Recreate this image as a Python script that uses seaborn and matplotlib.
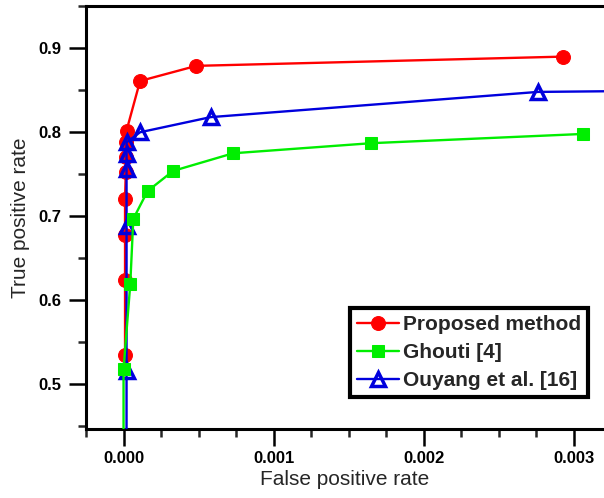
import matplotlib
matplotlib.use('Agg')
import matplotlib.pyplot as plt
from matplotlib.ticker import MultipleLocator, FormatStrFormatter
import seaborn as sns

# wartosci (FPR, TPR)
fpr_proposed = [0.00001, 0.00001, 0.00001, 0.00001, 0.000015, 0.000015, 0.000015, 0.00002, 0.00011, 0.000485, 0.00293]
tpr_proposed = [0.535, 0.624, 0.678, 0.721, 0.753, 0.770, 0.788, 0.802, 0.861, 0.879, 0.890]

fpr_ghouti = [0.0, 0.0, 0.000045, 0.000065, 0.00016, 0.00033, 0.00073, 0.00165, 0.00306]
tpr_ghouti = [0.30, 0.518, 0.620, 0.697, 0.730, 0.754, 0.775, 0.787, 0.798]

fpr_ouyang = [0.00002, 0.00002, 0.00002, 0.00002, 0.00002, 0.00002, 0.00011, 0.00058, 0.00276, 0.0045]
tpr_ouyang = [0.30, 0.516, 0.689, 0.756, 0.774, 0.788, 0.800, 0.818, 0.848, 0.851]

sns.set_style('ticks')
plt.rcParams['font.family'] = ['Liberation Sans', 'DejaVu Sans']
plt.rcParams['font.weight'] = 'bold'

fig = plt.figure(figsize=(6.04, 4.98), dpi=100)
ax = fig.add_axes([0.1424, 0.1386, 0.8576, 0.849])

sns.lineplot(x=fpr_proposed, y=tpr_proposed, sort=False, estimator=None, ax=ax,
             color='#ff0000', linewidth=1.7, marker='o', markersize=10,
             markeredgecolor='#ff0000', label='Proposed method', zorder=3)
sns.lineplot(x=fpr_ouyang, y=tpr_ouyang, sort=False, estimator=None, ax=ax,
             color='#0000dd', linewidth=1.7, marker='^', markersize=10,
             markerfacecolor='none', markeredgecolor='#0000dd', markeredgewidth=2.5,
             label='Ouyang et al. [16]', zorder=4)
sns.lineplot(x=fpr_ghouti, y=tpr_ghouti, sort=False, estimator=None, ax=ax,
             color='#00ee00', linewidth=1.7, marker='s', markersize=8,
             markeredgecolor='#00ee00', label='Ghouti [4]', zorder=5)

ax.set_xlim(-0.00025, 0.0032)
ax.set_ylim(0.447, 0.95)
ax.xaxis.set_major_locator(MultipleLocator(0.001))
ax.xaxis.set_minor_locator(MultipleLocator(0.00025))
ax.xaxis.set_major_formatter(FormatStrFormatter('%.3f'))
ax.yaxis.set_major_locator(MultipleLocator(0.1))
ax.yaxis.set_minor_locator(MultipleLocator(0.05))
ax.yaxis.set_major_formatter(FormatStrFormatter('%.1f'))
ax.tick_params(which='major', direction='out', length=12, width=1.8, labelsize=12, colors='black')
ax.tick_params(which='minor', direction='out', length=5.5, width=1.8)
ax.tick_params(axis='y', which='major', pad=6)
ax.tick_params(top=False, right=False)

for side in ['left', 'bottom', 'top']:
    ax.spines[side].set_linewidth(2.2)
    ax.spines[side].set_color('black')
ax.spines['right'].set_visible(False)

ax.set_xlabel('False positive rate', fontsize=15, fontweight='normal', labelpad=3)
ax.set_ylabel('True positive rate', fontsize=15, fontweight='normal', labelpad=6)

handles, labels = ax.get_legend_handles_labels()
order = [0, 2, 1]
leg = ax.legend([handles[i] for i in order], [labels[i] for i in order],
                loc='lower right', bbox_to_anchor=(0.97, 0.075),
                prop={'weight': 'bold', 'size': 15}, fancybox=False, framealpha=1,
                edgecolor='black', handlelength=2.0, handletextpad=0.2,
                labelspacing=0.42, borderpad=0.35, borderaxespad=0)
leg.get_frame().set_linewidth(3)

fig.savefig('out.png', dpi=100)
